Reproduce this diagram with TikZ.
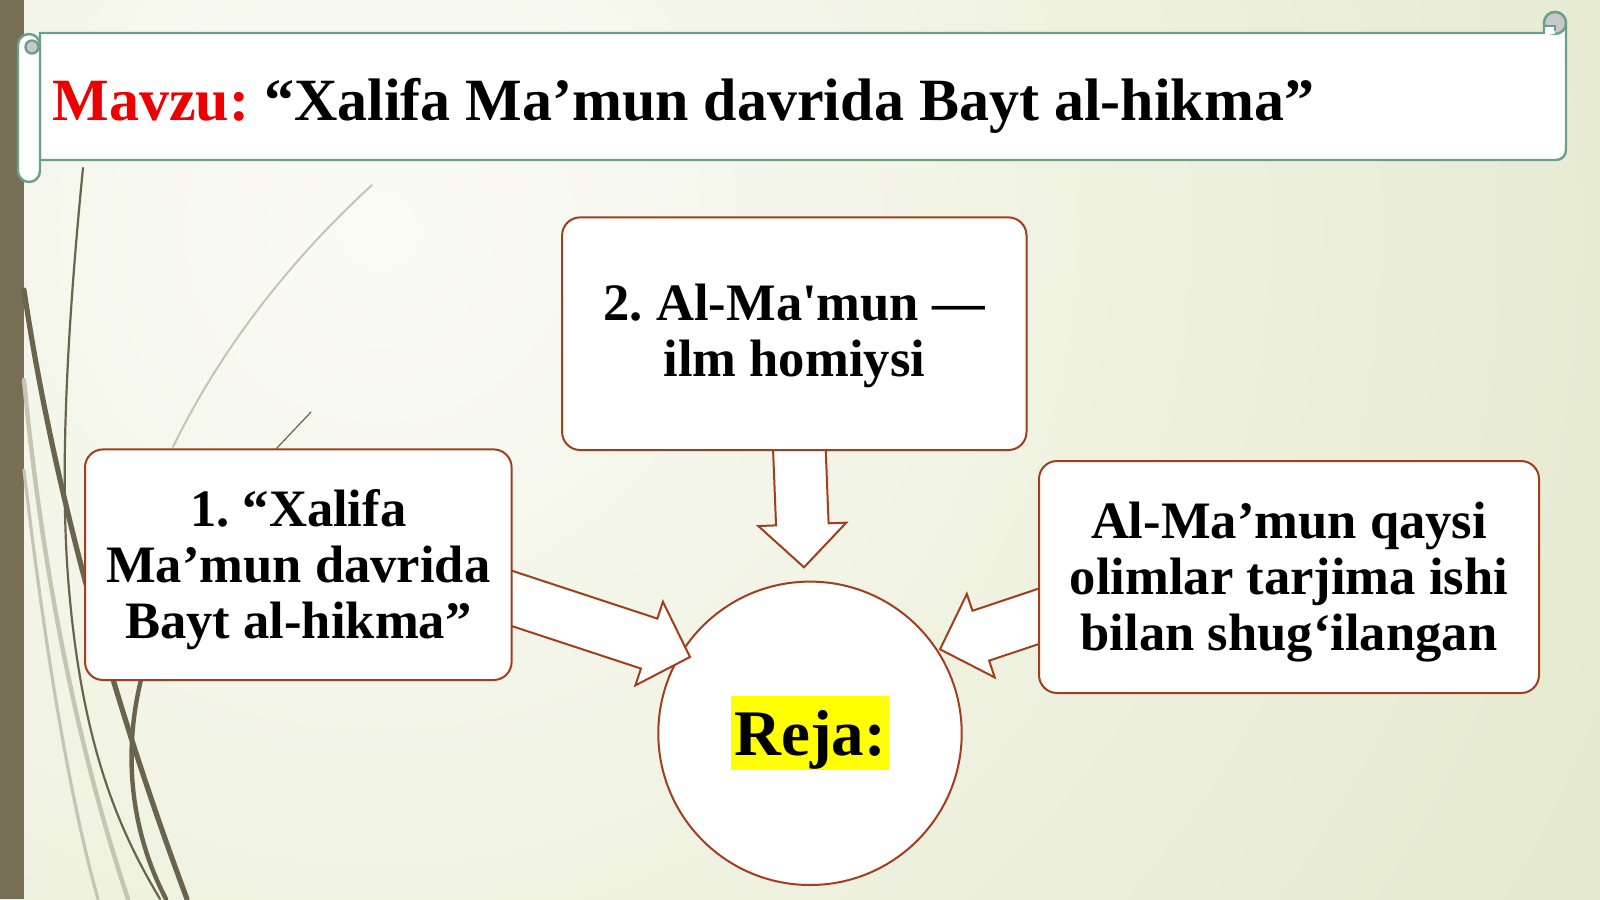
\documentclass[tikz,border=0pt]{standalone}
\usepackage{fontspec}
\setmainfont{Liberation Serif}
\usetikzlibrary{calc}
\definecolor{bgbase}{RGB}{223,229,196}
\definecolor{bglight}{RGB}{251,251,246}
\definecolor{stripc}{RGB}{118,111,85}
\definecolor{grassdark}{RGB}{106,100,76}
\definecolor{grasslight}{RGB}{196,198,178}
\definecolor{teal}{RGB}{104,160,138}
\definecolor{curlgrey}{RGB}{200,200,200}
\definecolor{boxline}{RGB}{160,62,30}
\definecolor{mred}{RGB}{238,0,0}
\definecolor{hl}{RGB}{255,255,0}
\newcommand{\blockarr}[2]{%
  \draw[arrowshape]
    ($(#1)!13.15pt!90:(#2)$) --
    ($(#2)!21.5pt!(#1)!13.15pt!90:(#2)$) --
    ($(#2)!21.5pt!(#1)!22pt!90:(#2)$) --
    (#2) --
    ($(#2)!21.5pt!(#1)!22pt!-90:(#2)$) --
    ($(#2)!21.5pt!(#1)!13.15pt!-90:(#2)$) --
    ($(#1)!13.15pt!-90:(#2)$) -- cycle;}
\begin{document}
\frenchspacing
\begin{tikzpicture}[x=0.5pt,y=-0.5pt,
  planbox/.style={draw=boxline, line width=1pt, fill=white, rounded corners=9pt, inner sep=0pt},
  plantext/.style={align=center, inner sep=0pt, font=\fontsize{26.3}{28}\selectfont\bfseries},
  arrowshape/.style={draw=boxline, line width=1pt, fill=white, line join=miter},
  darkgrass/.style={draw=grassdark, line cap=round},
  lightgrass/.style={draw=grasslight, line cap=round},
  scrollline/.style={draw=teal, line width=1.2pt, fill=white}]
\useasboundingbox (0,0) rectangle (1600,899);
% background
\fill[bgbase] (0,0) rectangle (1600,899);
\begin{scope}
  \clip (0,0) rectangle (1600,899);
  \shade[inner color=bglight, outer color=bgbase] (380,230) circle (850pt);
\end{scope}
\fill[stripc] (0,0) rectangle (24,899);
% grass
\draw[lightgrass, line width=1pt] (372,185) .. controls (290,260) and (220,350) .. (173,447);
\draw[darkgrass, line width=0.6pt] (311,412) -- (276,449);
\draw[lightgrass, line width=2.2pt] (24,380) .. controls (45,600) and (85,770) .. (128,899);
\draw[lightgrass, line width=1.6pt] (24,470) .. controls (45,650) and (70,800) .. (98,899);
\draw[darkgrass, line width=1.1pt] (83,168) .. controls (68,320) and (58,480) .. (70,600) .. controls (85,760) and (125,840) .. (160,899);
\draw[darkgrass, line width=2.6pt] (24,290) .. controls (55,500) and (120,720) .. (187,899);
\draw[darkgrass, line width=2.2pt] (143,672) .. controls (122,750) and (130,830) .. (166,899);
% scroll banner
\draw[scrollline] (40,33) -- (1544,33) -- (1544,23)
  arc[start angle=180, end angle=0, radius=5.5pt] -- (1566,150)
  arc[start angle=0, end angle=-90, radius=5pt] -- (40,160) -- cycle;
\draw[scrollline, fill=curlgrey] (1555,23) circle (5.5pt);
\fill[white] (1544.6,26) rectangle (1555,33.6);
\draw[teal, line width=1.2pt] (1544,33) -- (1544,26) -- (1555,26) -- (1555,31);
\draw[scrollline, rounded corners=5.5pt] (18,34) rectangle (40,182);
\draw[scrollline, fill=curlgrey] (32,47) circle (3.25pt);
\node[anchor=base west, inner sep=0pt, font=\fontsize{30}{34}\selectfont\bfseries]
  (title) at (52,120.7) {\textcolor{mred}{Mavzu:} “Xalifa Ma’mun davrida Bayt al-hikma”};
% central circle
\node[circle, draw=boxline, line width=1pt, fill=white, minimum size=151.7pt, inner sep=0pt]
  (circ) at (810,733.3) {};
% block arrows
\coordinate (tailtop) at (799,440);
\coordinate (tiptop) at (804,567.3);
\coordinate (tailleft) at (500.3,594.6);
\coordinate (tipleft) at (690,657);
\coordinate (tailright) at (1050.2,612.5);
\coordinate (tipright) at (940,649.3);
\blockarr{tailtop}{tiptop}
\blockarr{tailleft}{tipleft}
\blockarr{tailright}{tipright}
% boxes
\node[planbox, minimum width=232.2pt, minimum height=116.3pt] (top) at (794.3,333.7) {};
\node[plantext] (toptext) at ($(top.center)+(0,2)$) {2. Al-Ma\textquotesingle mun —\\ilm homiysi};
\node[planbox, minimum width=213.3pt, minimum height=115.3pt] (left) at (298.3,564.7) {};
\node[plantext] (lefttext) at ($(left.center)+(0,5)$) {1. “Xalifa\\Ma’mun davrida\\Bayt al-hikma”};
\node[planbox, minimum width=250pt, minimum height=116pt] (right) at (1289,577) {};
\node[plantext] (righttext) at ($(right.center)+(0,5)$) {Al-Ma’mun qaysi\\olimlar tarjima ishi\\bilan shug‘ilangan};
\node[fill=hl, inner xsep=1.8pt, inner ysep=0pt, text height=29.5pt, text depth=7.5pt,
  font=\fontsize{32.5}{36}\selectfont\bfseries] (reja) at (circ.center) {Reja:};
\end{tikzpicture}
\end{document}
